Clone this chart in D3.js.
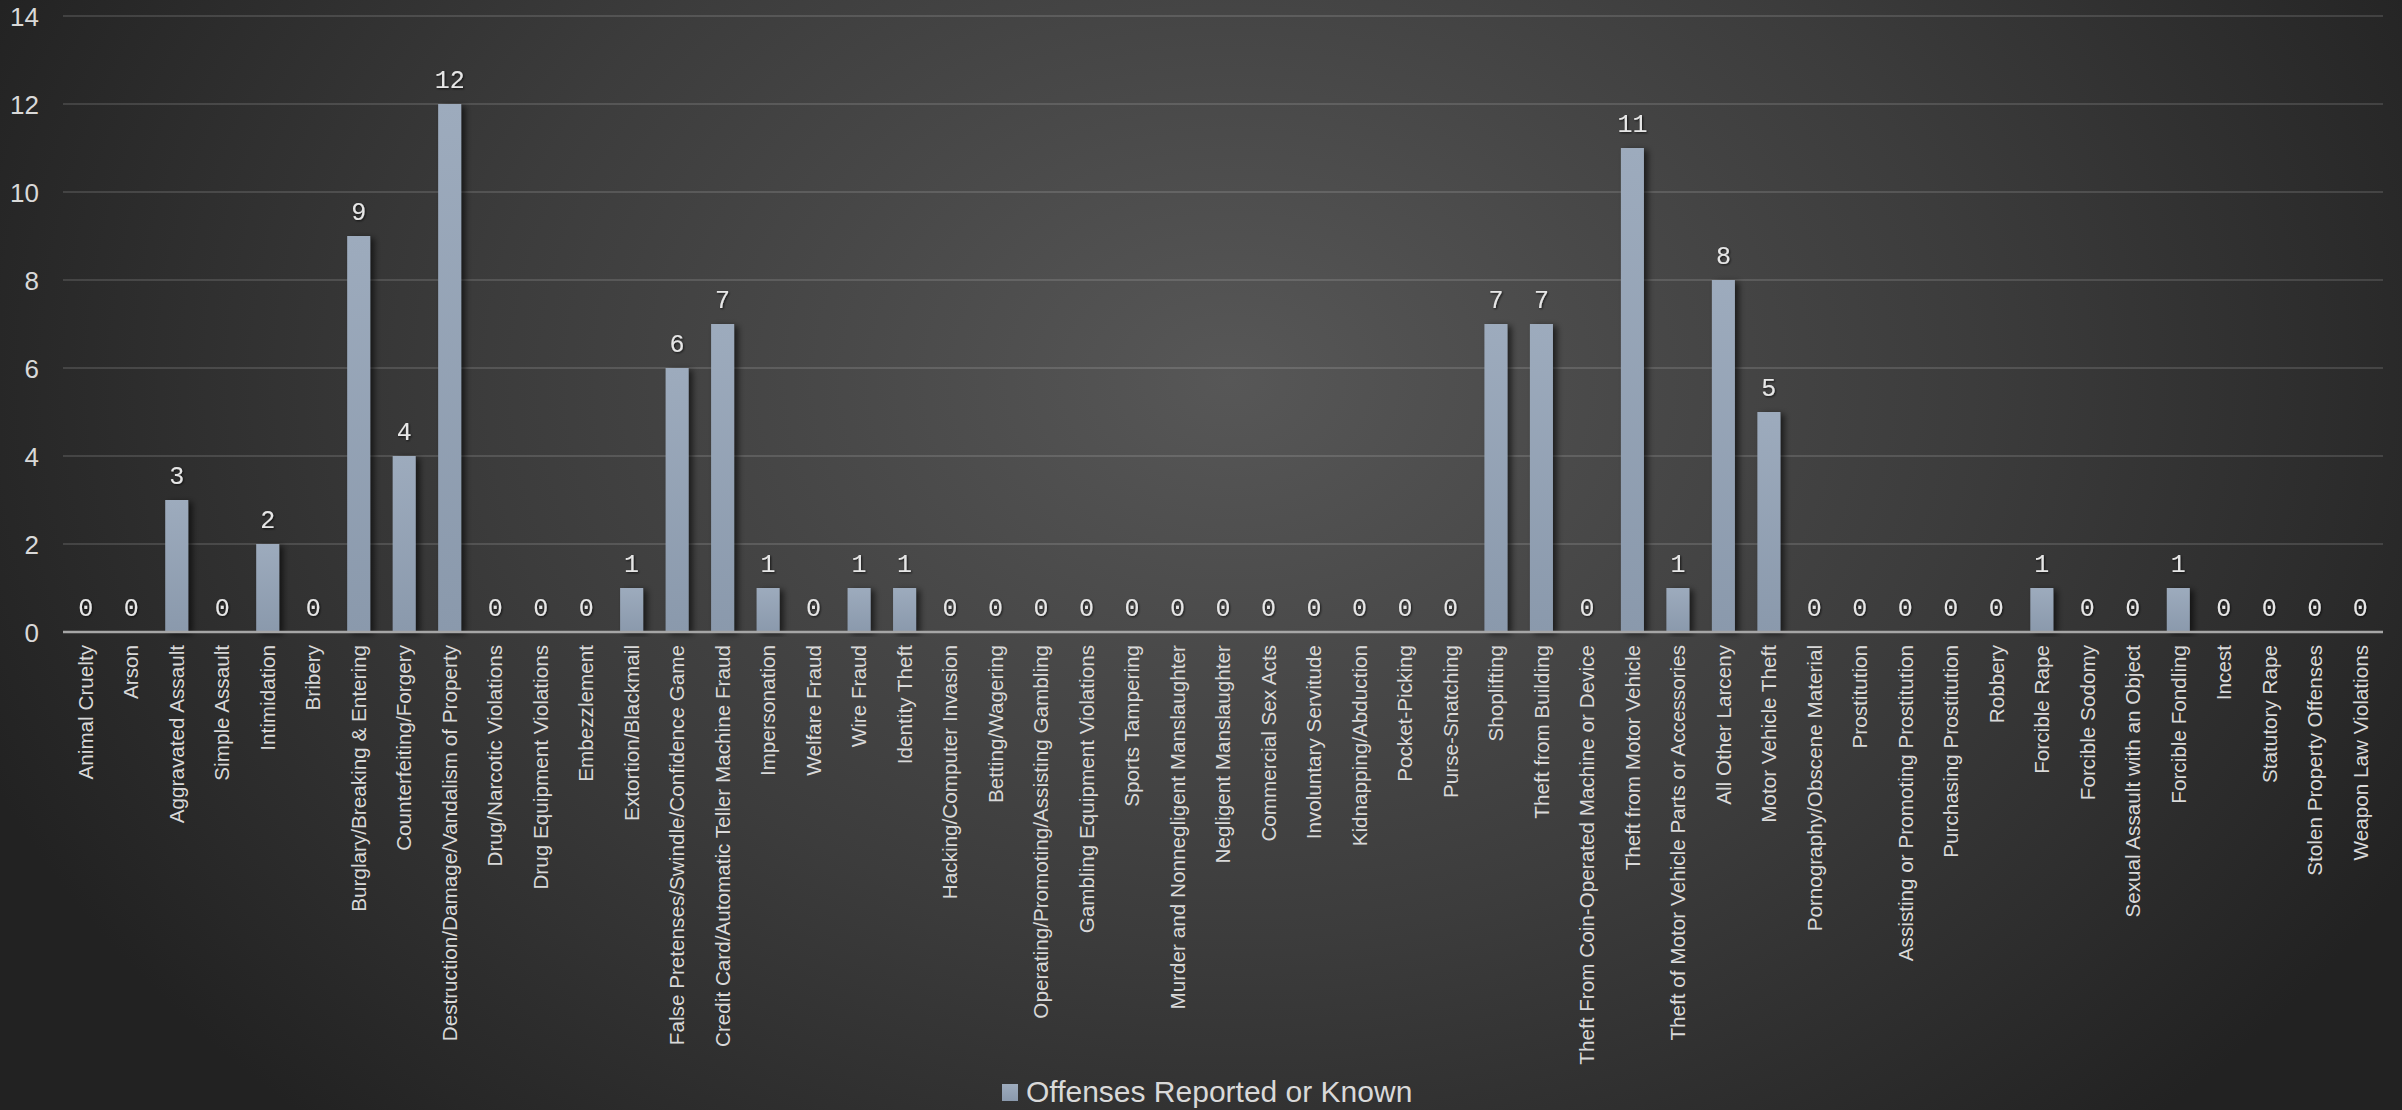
<!DOCTYPE html>
<html><head><meta charset="utf-8">
<script src="https://cdn.jsdelivr.net/npm/d3@7"></script>
<style>
html,body{margin:0;padding:0;background:#2b2b2b;overflow:hidden;}
svg{display:block;}
</style></head>
<body>
<svg id="chart" width="2402" height="1110"></svg>
<script>
const categories = ["Animal Cruelty","Arson","Aggravated Assault","Simple Assault","Intimidation","Bribery","Burglary/Breaking & Entering","Counterfeiting/Forgery","Destruction/Damage/Vandalism of Property","Drug/Narcotic Violations","Drug Equipment Violations","Embezzlement","Extortion/Blackmail","False Pretenses/Swindle/Confidence Game","Credit Card/Automatic Teller Machine Fraud","Impersonation","Welfare Fraud","Wire Fraud","Identity Theft","Hacking/Computer Invasion","Betting/Wagering","Operating/Promoting/Assisting Gambling","Gambling Equipment Violations","Sports Tampering","Murder and Nonnegligent Manslaughter","Negligent Manslaughter","Commercial Sex Acts","Involuntary Servitude","Kidnapping/Abduction","Pocket-Picking","Purse-Snatching","Shoplifting","Theft from Building","Theft From Coin-Operated Machine or Device","Theft from Motor Vehicle","Theft of Motor Vehicle Parts or Accessories","All Other Larceny","Motor Vehicle Theft","Pornography/Obscene Material","Prostitution","Assisting or Promoting Prostitution","Purchasing Prostitution","Robbery","Forcible Rape","Forcible Sodomy","Sexual Assault with an Object","Forcible Fondling","Incest","Statutory Rape","Stolen Property Offenses","Weapon Law Violations"];
const values = [0,0,3,0,2,0,9,4,12,0,0,0,1,6,7,1,0,1,1,0,0,0,0,0,0,0,0,0,0,0,0,7,7,0,11,1,8,5,0,0,0,0,0,1,0,0,1,0,0,0,0];
const yTicks = [0,2,4,6,8,10,12,14];
const seriesName = "Offenses Reported or Known";

const W = 2402, H = 1110;
const svg = d3.select("#chart");
const defs = svg.append("defs");

const bg = defs.append("radialGradient").attr("id","bg")
  .attr("gradientUnits","userSpaceOnUse").attr("cx",1230).attr("cy",380).attr("r",1350)
  .attr("gradientTransform","translate(1230,380) scale(1,0.75) translate(-1230,-380)");
bg.append("stop").attr("offset","0%").attr("stop-color","#575757");
bg.append("stop").attr("offset","55%").attr("stop-color","#3c3c3c");
bg.append("stop").attr("offset","100%").attr("stop-color","#222222");
svg.append("rect").attr("width",W).attr("height",H).attr("fill","url(#bg)");

const barGrad = defs.append("linearGradient").attr("id","barg").attr("x1",0).attr("x2",0).attr("y1",0).attr("y2",1);
barGrad.append("stop").attr("offset","0%").attr("stop-color","#9dabbd");
barGrad.append("stop").attr("offset","100%").attr("stop-color","#8a99ac");

const sh = defs.append("filter").attr("id","shadow").attr("x","-50%").attr("y","-10%").attr("width","200%").attr("height","120%");
sh.append("feDropShadow").attr("dx",4).attr("dy",2).attr("stdDeviation",3).attr("flood-color","#000").attr("flood-opacity",0.6);
const tsh = defs.append("filter").attr("id","tshadow").attr("x","-20%").attr("y","-20%").attr("width","140%").attr("height","140%");
tsh.append("feDropShadow").attr("dx",1).attr("dy",1).attr("stdDeviation",1).attr("flood-color","#000").attr("flood-opacity",0.7);

const x = d3.scaleBand().domain(categories).range([63,2383]).paddingInner(0.494).paddingOuter(0.247);
const y = d3.scaleLinear().domain([0,14]).range([632,16]);

// gridlines
svg.append("g").selectAll("line").data(yTicks.filter(d=>d>0)).join("line")
  .attr("x1",63).attr("x2",2383).attr("y1",d=>y(d)).attr("y2",d=>y(d))
  .attr("stroke","#ffffff").attr("stroke-opacity",0.13).attr("stroke-width",2);

// y axis labels
const yAxis = d3.axisLeft(y).tickValues(yTicks).tickSize(0).tickPadding(0);
const yg = svg.append("g").attr("transform","translate(39,0)").call(yAxis);
yg.select(".domain").remove();
yg.selectAll("text").attr("font-family","'Liberation Sans', Arial, sans-serif").attr("font-size",26)
  .attr("fill","#d9d9d9").attr("dy","0.35em");

// bars
svg.append("g").selectAll("rect").data(values).join("rect")
  .attr("x",(d,i)=>x(categories[i])).attr("width",x.bandwidth())
  .attr("y",d=>y(d)).attr("height",d=>y(0)-y(d))
  .attr("fill","url(#barg)").attr("filter","url(#shadow)");

// x axis
const xAxis = d3.axisBottom(x).tickSize(0).tickPadding(0);
const xg = svg.append("g").attr("transform",`translate(0,${y(0)})`).call(xAxis);
xg.select(".domain").attr("stroke","#a6a6a6").attr("stroke-width",2.5).attr("d","M63,0H2383");
xg.selectAll("text")
  .attr("font-family","'Liberation Sans', Arial, sans-serif").attr("font-size",20.7)
  .attr("fill","#d9d9d9")
  .attr("transform","rotate(-90)")
  .attr("text-anchor","end").attr("x",-13).attr("y",0).attr("dy","0.35em");

// data labels
svg.append("g").selectAll("text").data(values).join("text")
  .attr("x",(d,i)=>x(categories[i])+x.bandwidth()/2)
  .attr("y",d=>y(d)-16)
  .attr("text-anchor","middle")
  .attr("font-family","'Liberation Mono', 'DejaVu Sans Mono', monospace").attr("font-size",25)
  .attr("fill","#e6e6e6").attr("filter","url(#tshadow)")
  .text(d=>d);

// legend
const lg = svg.append("g");
lg.append("rect").attr("x",1002).attr("y",1084).attr("width",16).attr("height",17).attr("fill","url(#barg)");
lg.append("text").attr("x",1026).attr("y",1102)
  .attr("font-family","'Liberation Sans', Arial, sans-serif").attr("font-size",30)
  .attr("fill","#d9d9d9").text(seriesName);
</script>
</body></html>
